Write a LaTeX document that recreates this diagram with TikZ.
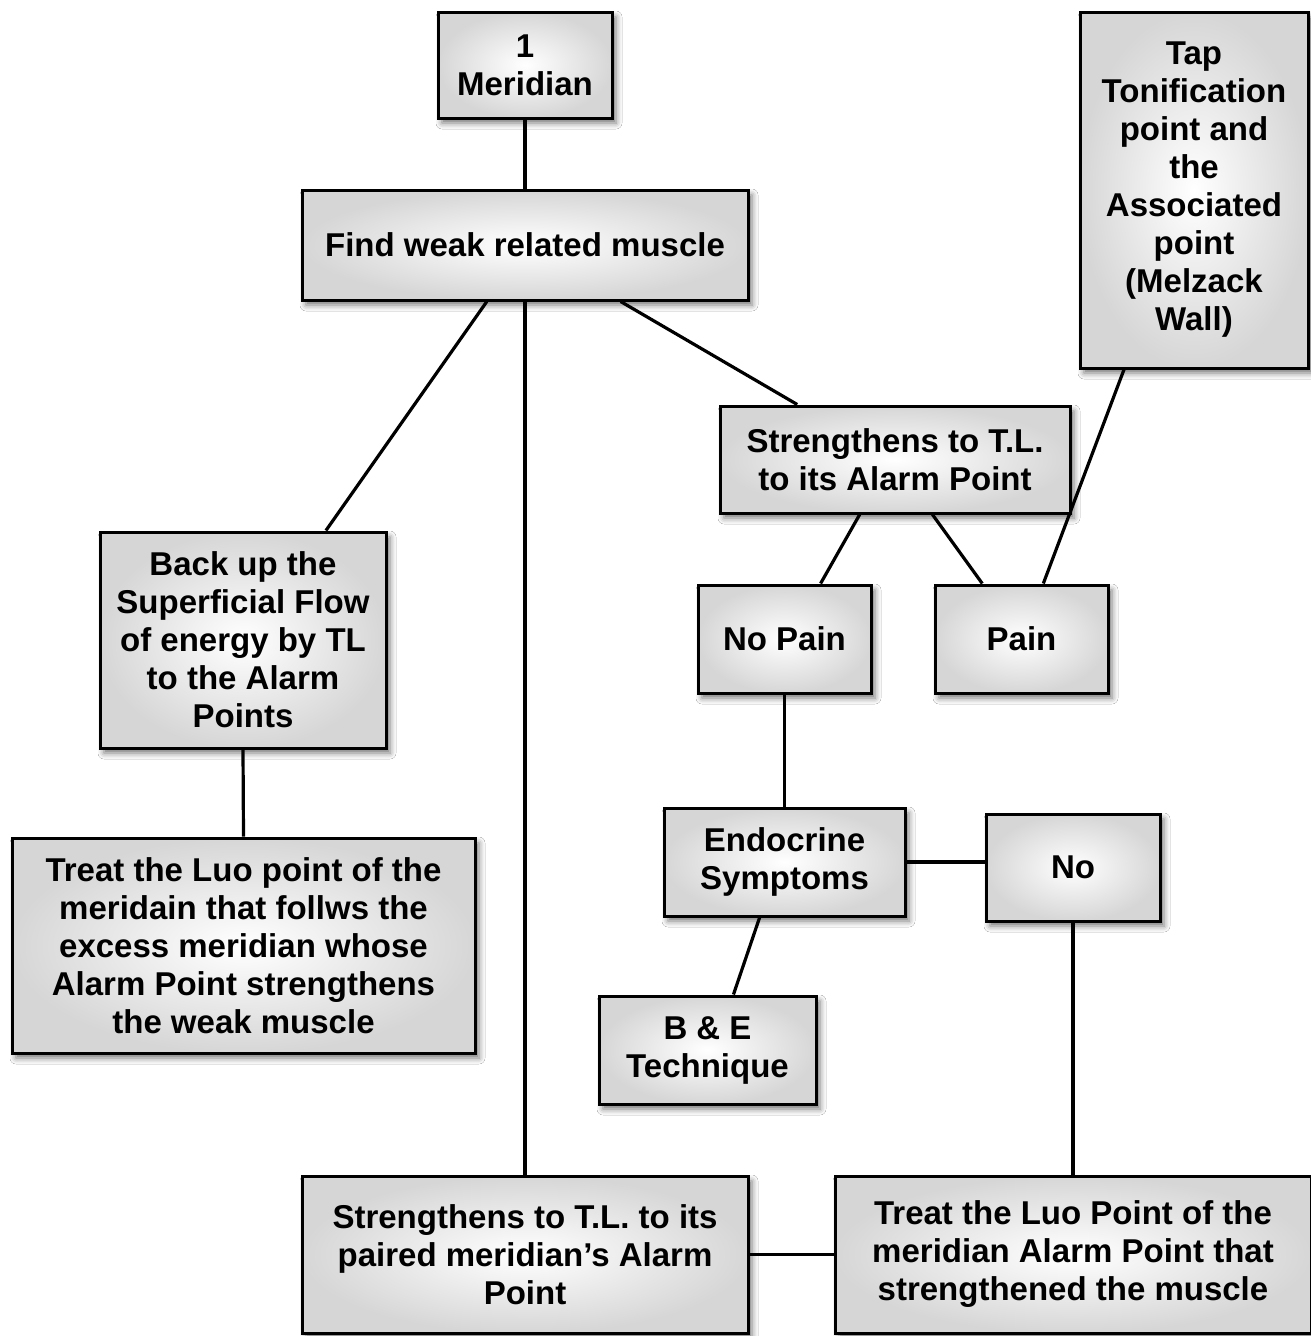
\documentclass[tikz,border=0pt]{standalone}
\usepackage{fontspec}
\setmainfont{Liberation Sans}
\usetikzlibrary{calc,shadows.blur}
\pgfdeclarelayer{links}
\pgfsetlayers{links,main}
\begin{document}
\begin{tikzpicture}[x=1pt,y=-1pt,
  box/.style={draw=black, line width=3pt, inner sep=0pt, align=center,
    font=\fontsize{33}{38}\selectfont\bfseries,
    inner color=white, outer color=gray!32,
    blur shadow={shadow xshift=4pt, shadow yshift=-5pt, shadow blur radius=6pt, shadow opacity=55}},
  link/.style={line width=3.2pt, black}]
\useasboundingbox (0,0) rectangle (1311,1336);

\node[box, minimum width=174pt, minimum height=106pt] (mer) at (525,65) {1\\Meridian};
\node[box, minimum width=446pt, minimum height=110pt] (find) at (525,245) {Find weak related muscle};
\node[box, minimum width=228pt, minimum height=356pt] (tap) at (1194,190) {Tap\\Tonification\\point and\\the\\Associated\\point\\(Melzack\\Wall)};
\node[box, minimum width=350pt, minimum height=107pt] (stl) at (895,459.5) {Strengthens to T.L.\\to its Alarm Point};
\node[box, minimum width=286pt, minimum height=216pt] (back) at (243,640) {Back up the\\Superficial Flow\\of energy by TL\\to the Alarm\\Points};
\node[box, minimum width=173pt, minimum height=108pt] (nopain) at (784.5,639) {No Pain};
\node[box, minimum width=173pt, minimum height=108pt] (pain) at (1021.5,639) {Pain};
\node[box, minimum width=463pt, minimum height=215pt] (luo) at (243.5,945.5) {Treat the Luo point of the\\meridain that follws the\\excess meridian whose\\Alarm Point strengthens\\the weak muscle};
\node[box, minimum width=241pt, minimum height=108pt] (endo) at (784.5,862) {Endocrine\\Symptoms};
\node[box, minimum width=174pt, minimum height=107pt] (no) at (1073,867.5) {No};
\node[box, minimum width=217pt, minimum height=108pt] (be) at (707.5,1050) {B \& E\\Technique};
\node[box, minimum width=446pt, minimum height=157pt] (paired) at (525,1254.5) {Strengthens to T.L. to its\\paired meridian's Alarm\\Point};
\node[box, minimum width=476pt, minimum height=157pt] (luo2) at (1073,1254.5) {Treat the Luo Point of the\\meridian Alarm Point that\\strengthened the muscle};

\begin{pgfonlayer}{links}
\fill[white] (0,0) rectangle (1311,1336);
\draw[link] (mer.south) -- (find.north);
\draw[link] ($(find.south west)!0.415!(find.south east)$) -- ($(back.north west)!0.787!(back.north east)$);
\draw[link] (find.south) -- (paired.north);
\draw[link] ($(find.south west)!0.713!(find.south east)$) -- ($(stl.north west)!0.223!(stl.north east)$);
\draw[link] ($(tap.south west)!0.197!(tap.south east)$) -- ($(pain.north west)!0.624!(pain.north east)$);
\draw[link] ($(stl.south west)!0.4!(stl.south east)$) -- ($(nopain.north west)!0.705!(nopain.north east)$);
\draw[link] ($(stl.south west)!0.606!(stl.south east)$) -- ($(pain.north west)!0.277!(pain.north east)$);
\draw[link] (back.south) -- (luo.north);
\draw[link] (nopain.south) -- (endo.north);
\draw[link] (endo.east) -- (endo.east -| no.west);
\draw[link] ($(endo.south west)!0.398!(endo.south east)$) -- ($(be.north west)!0.618!(be.north east)$);
\draw[link] (no.south) -- (luo2.north);
\draw[link] (paired.east) -- (luo2.west);
\end{pgfonlayer}
\end{tikzpicture}
\end{document}
